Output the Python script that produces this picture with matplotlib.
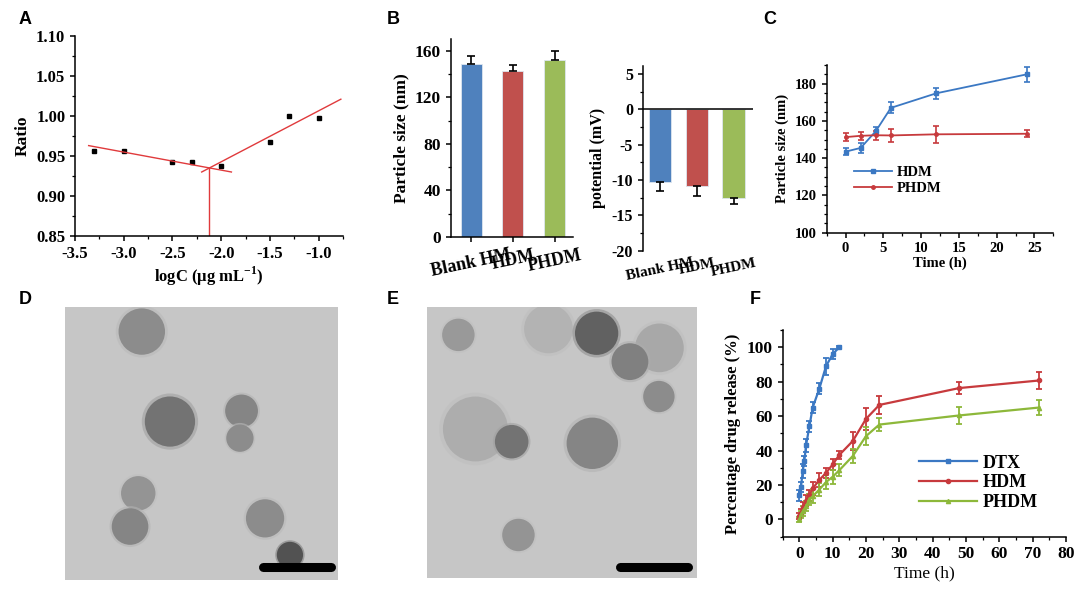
import numpy as np
import matplotlib.pyplot as plt
from matplotlib.patches import Circle
from matplotlib.ticker import MultipleLocator

plt.rcParams['font.family'] = ['Liberation Serif', 'DejaVu Serif']
plt.rcParams['font.weight'] = 'bold'
plt.rcParams['axes.labelweight'] = 'bold'
plt.rcParams['axes.unicode_minus'] = False
plt.rcParams['mathtext.fontset'] = 'custom'
plt.rcParams['mathtext.rm'] = 'Liberation Serif:bold'
plt.rcParams['mathtext.bf'] = 'Liberation Serif:bold'
plt.rcParams['axes.linewidth'] = 1.1
for a in ('xtick', 'ytick'):
    plt.rcParams[a + '.major.width'] = 1.1
    plt.rcParams[a + '.minor.width'] = 0.9
    plt.rcParams[a + '.major.size'] = 3.5
    plt.rcParams[a + '.minor.size'] = 2

# --- A: CMC determination
logc = [-3.3, -3.0, -2.5, -2.3, -2.0, -1.5, -1.3, -1.0]
ratio = [0.956, 0.956, 0.943, 0.943, 0.937, 0.968, 0.9995, 0.997]
fit1_x = [-3.36, -1.895]
fit1_y = [0.963, 0.930]
fit2_x = [-2.20, -0.772]
fit2_y = [0.930, 1.021]
cmc = -2.12

# --- B: size and zeta potential
groups = ['Blank HM', 'HDM', 'PHDM']
size_nm = [148.5, 143, 152]
size_err = [7, 5, 8]
zeta = [-10.2, -10.9, -12.5]
zeta_err = [1.4, 1.3, 0.95]
bar_colors = ['#4F81BD', '#C0504D', '#9BBB59']

# --- C: size stability
c_time = [0, 2, 4, 6, 12, 24]
c_hdm = [143.5, 145.5, 154.5, 167, 174.8, 185]
c_hdm_err = [2, 2.5, 2.3, 3, 3.1, 3.9]
c_phdm = [151.3, 152, 152.3, 152.2, 152.8, 153.1]
c_phdm_err = [2, 2.3, 2.3, 3.5, 4.5, 2]

# --- F: release profile
dtx_t = [0, 0.5, 1, 1.5, 2, 3, 4, 6, 8, 10, 12]
dtx = [14, 19, 28, 34, 43, 54, 65, 76, 89, 96, 100]
dtx_err = [3, 3, 4, 3, 4, 3, 3, 3, 5, 3, 0.5]
rel_t = [0, 0.5, 1, 2, 3, 4, 6, 8, 10, 12, 16, 20, 24, 48, 72]
hdm_rel = [2, 4, 7, 11, 14, 18, 23, 27, 32, 37.5, 45.5, 58.4, 66.5, 76.3, 80.7]
hdm_rel_err = [2, 2, 3, 3, 3, 4, 4, 3, 3, 2.5, 5, 6.5, 5, 3.5, 5]
phdm_rel = [0, 2.9, 4.8, 7.7, 11.6, 13.5, 17.4, 21.7, 24.8, 28.6, 36.8, 48.4, 55.1, 60.4, 65]
phdm_rel_err = [1.5, 2, 3, 3, 3, 4, 4, 4, 4, 3.5, 4, 5, 4, 5, 4.5]

# --- D / E: TEM particles (x, y, radius, grey level), image coords 0-1
d_x = [0.281, 0.384, 0.646, 0.640, 0.268, 0.238, 0.732, 0.823]
d_y = [0.089, 0.419, 0.380, 0.480, 0.682, 0.804, 0.774, 0.908]
d_r = [0.085, 0.092, 0.060, 0.050, 0.063, 0.067, 0.070, 0.048]
d_g = [0.55, 0.45, 0.52, 0.55, 0.58, 0.52, 0.55, 0.32]
e_x = [0.117, 0.45, 0.628, 0.86, 0.751, 0.858, 0.18, 0.314, 0.612, 0.339]
e_y = [0.102, 0.08, 0.096, 0.15, 0.201, 0.330, 0.45, 0.497, 0.503, 0.842]
e_r = [0.060, 0.09, 0.080, 0.09, 0.068, 0.058, 0.12, 0.062, 0.095, 0.060]
e_g = [0.60, 0.70, 0.38, 0.66, 0.50, 0.55, 0.68, 0.45, 0.52, 0.58]
d_bar = [0.726, 0.973, 0.951]
e_bar = [0.714, 0.967, 0.959]

blue, red, green = '#3B78C3', '#C73A3D', '#8DB83A'
W, H = 1084, 589
fig = plt.figure(figsize=(W / 100, H / 100), dpi=100)


def box(l, t, r, b):
    return [l / W, 1 - b / H, (r - l) / W, (b - t) / H]


def clean(ax):
    ax.spines['top'].set_visible(False)
    ax.spines['right'].set_visible(False)


# A
ax = fig.add_axes(box(75, 36, 343, 236))
clean(ax)
ax.plot(logc, ratio, 's', color='black', ms=3.5)
ax.plot(fit1_x, fit1_y, color='#E03A3C', lw=1)
ax.plot(fit2_x, fit2_y, color='#E03A3C', lw=1)
ax.plot([cmc, cmc], [0.85, np.interp(cmc, fit1_x, fit1_y)], color='#E03A3C', lw=1)
ax.set_xlim(-3.5, -0.75)
ax.set_ylim(0.85, 1.10)
ax.xaxis.set_major_locator(MultipleLocator(0.5))
ax.xaxis.set_minor_locator(MultipleLocator(0.25))
ax.yaxis.set_major_locator(MultipleLocator(0.05))
ax.yaxis.set_minor_locator(MultipleLocator(0.025))
ax.xaxis.set_major_formatter(lambda v, p: f'{v:.1f}')
ax.yaxis.set_major_formatter(lambda v, p: f'{v:.2f}')
ax.tick_params(labelsize=12)
ax.set_xlabel('logC (μg mL$^{-1}$)', fontsize=12, labelpad=2)
ax.set_ylabel('Ratio', fontsize=12.5)

# B left
ax = fig.add_axes(box(450.7, 39.3, 573, 237))
clean(ax)
xb = np.arange(len(groups))
ax.bar(xb, size_nm, width=0.5, color=bar_colors, edgecolor='#dde6f0', lw=0.6,
       yerr=[[0] * 3, size_err], capsize=3, error_kw=dict(lw=1.2, capthick=1.2))
ax.set_xlim(-0.49, 2.44)
ax.set_ylim(0, 170)
ax.yaxis.set_major_locator(MultipleLocator(40))
ax.yaxis.set_minor_locator(MultipleLocator(20))
ax.set_xticks(xb)
ax.set_xticklabels(groups, rotation=12, fontsize=13)
ax.tick_params(axis='y', labelsize=12.5)
ax.set_ylabel('Particle size (nm)', fontsize=12.5)

# B right
ax = fig.add_axes(box(642.7, 65.7, 753, 250.7))
clean(ax)
ax.spines['bottom'].set_visible(False)
ax.bar(xb, zeta, width=0.6, color=bar_colors, edgecolor='#dde6f0', lw=0.6,
       yerr=[zeta_err, [0] * 3], capsize=3, error_kw=dict(lw=1.2, capthick=1.2))
ax.axhline(0, color='black', lw=1.1)
ax.set_xlim(-0.47, 2.53)
ax.set_ylim(-20, 6.2)
ax.yaxis.set_major_locator(MultipleLocator(5))
ax.yaxis.set_minor_locator(MultipleLocator(2.5))
ax.set_xticks(xb)
ax.set_xticklabels(groups, rotation=12, fontsize=11)
ax.tick_params(axis='x', length=0, pad=4)
ax.tick_params(axis='y', labelsize=11.5)
ax.set_ylabel('potential (mV)', fontsize=11.5)

# C
ax = fig.add_axes(box(826.7, 65, 1053.3, 232.7))
clean(ax)
h1 = ax.errorbar(c_time, c_hdm, yerr=c_hdm_err, color=blue, marker='s', ms=2.5, lw=1.3,
                 capsize=2, capthick=1.2, elinewidth=1.2)
h2 = ax.errorbar(c_time, c_phdm, yerr=c_phdm_err, color=red, marker='o', ms=2.5, lw=1.3,
                 capsize=2, capthick=1.2, elinewidth=1.2)
ax.set_xlim(-2.5, 27.5)
ax.set_ylim(100, 190)
ax.xaxis.set_major_locator(MultipleLocator(5))
ax.xaxis.set_minor_locator(MultipleLocator(2.5))
ax.yaxis.set_major_locator(MultipleLocator(20))
ax.yaxis.set_minor_locator(MultipleLocator(5))
ax.tick_params(labelsize=10.5)
ax.set_xlabel('Time (h)', fontsize=10.5, labelpad=1)
ax.set_ylabel('Particle size (nm)', fontsize=10.5)
ax.legend([h1[0], h2[0]], ['HDM', 'PHDM'], loc='upper left', bbox_to_anchor=(0.09, 0.44),
          frameon=False, fontsize=10.5, handlelength=2.6, labelspacing=0.15,
          borderpad=0, handletextpad=0.3)

# D and E micrographs


def tem(rect, xs, ys, rs, gs, bar):
    ax = fig.add_axes(rect)
    ax.set_facecolor('#c6c6c6')
    for x, y, r, g in zip(xs, ys, rs, gs):
        ax.add_patch(Circle((x, y), r * 1.12, color=str(min(g + 0.18, 0.75)), alpha=0.6, lw=0))
        ax.add_patch(Circle((x, y), r, color=str(g), lw=0))
    ax.plot(bar[:2], [bar[2], bar[2]], color='black', lw=6.5, solid_capstyle='round')
    ax.set_xlim(0, 1)
    ax.set_ylim(1, 0)
    ax.set_xticks([])
    ax.set_yticks([])
    for s in ax.spines.values():
        s.set_visible(False)


tem(box(65, 307.3, 338.3, 580), d_x, d_y, d_r, d_g, d_bar)
tem(box(426.7, 307.3, 697.3, 577.7), e_x, e_y, e_r, e_g, e_bar)

# F
ax = fig.add_axes(box(782.7, 330, 1066, 536.7))
clean(ax)
kw = dict(ms=3, lw=1.6, capsize=2.5, capthick=1.3, elinewidth=1.3)
f1 = ax.errorbar(dtx_t, dtx, yerr=dtx_err, color=blue, marker='s', **kw)
f2 = ax.errorbar(rel_t, hdm_rel, yerr=hdm_rel_err, color=red, marker='o', **kw)
f3 = ax.errorbar(rel_t, phdm_rel, yerr=phdm_rel_err, color=green, marker='^', **kw)
ax.set_xlim(-5, 80)
ax.set_ylim(-10, 110)
ax.xaxis.set_major_locator(MultipleLocator(10))
ax.xaxis.set_minor_locator(MultipleLocator(5))
ax.yaxis.set_major_locator(MultipleLocator(20))
ax.yaxis.set_minor_locator(MultipleLocator(10))
ax.tick_params(labelsize=12.5)
ax.set_xlabel('Time (h)', fontsize=12.5, fontweight='normal', labelpad=2)
ax.set_ylabel('Percentage drug release (%)', fontsize=12)
ax.legend([f1[0], f2[0], f3[0]], ['DTX', 'HDM', 'PHDM'], loc='upper left',
          bbox_to_anchor=(0.45, 0.44), frameon=False,
          prop=dict(size=13, weight='bold'), handlelength=3.2, labelspacing=0.15,
          borderpad=0, handletextpad=0.3)

# panel letters
for lab, x, y in [('A', 25, 20), ('B', 393, 20), ('C', 770, 20),
                  ('D', 25, 300), ('E', 393, 300), ('F', 755, 300)]:
    fig.text(x / W, 1 - y / H, lab, fontsize=13, fontweight='bold',
             family='Liberation Sans', ha='center', va='center')

fig.savefig('out.png', dpi=100)
